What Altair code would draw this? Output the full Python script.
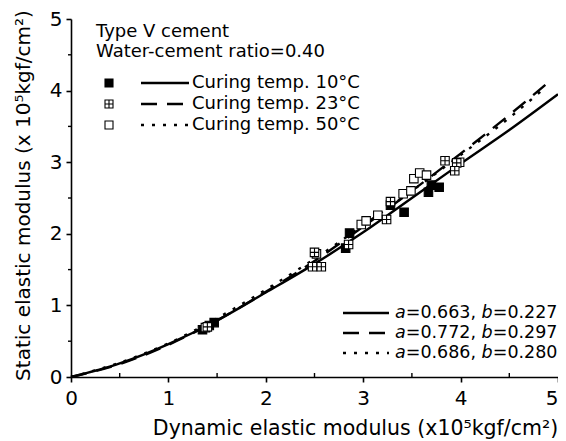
import altair as alt
import pandas as pd

# ---------------- data ----------------
# fitted curves
curve10_x = [0, 0.5, 1, 1.5, 2, 2.5, 3, 3.5, 4, 4.5, 5]
curve10_y = [0, 0.19, 0.46, 0.79, 1.18, 1.58, 2.02, 2.50, 2.98, 3.45, 3.95]
curve23_x = [0, 0.5, 1, 1.5, 2, 2.5, 3, 3.5, 4, 4.5, 4.87]
curve23_y = [0, 0.18, 0.45, 0.79, 1.19, 1.62, 2.10, 2.60, 3.12, 3.66, 4.08]
curve50_x = [0, 0.5, 1, 1.5, 2, 2.5, 3, 3.5, 4, 4.5, 4.85]
curve50_y = [0, 0.20, 0.47, 0.82, 1.22, 1.65, 2.12, 2.60, 3.10, 3.62, 4.02]

# measured points
pts10_x = [1.35, 1.42, 1.47, 2.82, 2.86, 3.28, 3.42, 3.67, 3.70, 3.78]
pts10_y = [0.66, 0.72, 0.76, 1.80, 2.01, 2.40, 2.30, 2.58, 2.68, 2.65]
pts23_x = [1.40, 2.50, 2.48, 2.57, 2.85, 3.24, 3.28, 3.84, 3.96, 3.94]
pts23_y = [0.70, 1.74, 1.54, 1.54, 1.85, 2.20, 2.45, 3.02, 2.99, 2.88]
pts50_x = [1.38, 2.52, 2.98, 3.03, 3.15, 3.41, 3.49, 3.52, 3.58, 3.65, 3.99]
pts50_y = [0.69, 1.72, 2.13, 2.18, 2.26, 2.56, 2.60, 2.77, 2.85, 2.82, 3.00]

major_ticks = [0, 1, 2, 3, 4, 5]
minor_ticks = [0.5, 1.5, 2.5, 3.5, 4.5]

legend_header = ["Type V cement", "Water-cement ratio=0.40"]
legend_temps = ["Curing temp. 10°C", "Curing temp. 23°C", "Curing temp. 50°C"]
fit_a = ["0.663", "0.772", "0.686"]
fit_b = ["0.227", "0.297", "0.280"]

x_title = "Dynamic elastic modulus (x10⁵kgf/cm²)"
y_title = "Static elastic modulus (x 10⁵kgf/cm²)"

# ---------------- styling ----------------
FONT = "DejaVu Sans"
W, H = 487, 358
TOP = 11
DASH = [16, 10]
DOT = [3, 8]
LW = 2.4
CROSS = "M-1,-1H1V1H-1Z M0,-1V1 M-1,0H1"

xs = alt.Scale(domain=[0, 5], nice=False, zero=False)
ys = alt.Scale(domain=[0, 5], nice=False, zero=False)

axis_common = dict(
    domainColor="black", domainWidth=1.6, tickColor="black", tickWidth=1.6,
    labelFont=FONT, labelFontSize=20, labelColor="black", labelFlush=False,
    grid=False, titleFont=FONT, titleColor="black",
    titleFontWeight="normal", tickSize=5, format="d", values=major_ticks,
)
X_AX = alt.Axis(
    labelPadding=6, title=x_title, titleFontSize=20.5, titleX=284, titleY=57,
    titleBaseline="alphabetic",
    labelAlign=alt.condition("datum.value == 5", alt.value("right"), alt.value("center")),
    **axis_common)
Y_AX = alt.Axis(labelPadding=4, title=y_title, titleFontSize=20, titleX=-42,
                titleY=176, titleAngle=-90, titleBaseline="alphabetic",
                **axis_common)

XE = alt.X("x:Q", scale=xs, axis=X_AX)
YE = alt.Y("y:Q", scale=ys, axis=Y_AX)


def df(xv, yv):
    return pd.DataFrame({"x": xv, "y": yv})


def curve(xv, yv, dash=None):
    kw = dict(color="black", strokeWidth=LW, interpolate="monotone")
    if dash:
        kw["strokeDash"] = dash
    return alt.Chart(df(xv, yv)).mark_line(**kw).encode(x=XE, y=YE)


def points(xv, yv, shape, fill):
    return alt.Chart(df(xv, yv)).mark_point(
        shape=shape, size=72, filled=True, fill=fill, stroke="black",
        strokeWidth=1.1, opacity=1
    ).encode(x=XE, y=YE)


# minor ticks: x inward (up), y outward (left, short)
minor_x = alt.Chart(df(minor_ticks, minor_ticks)).mark_rule(
    color="black", strokeWidth=1.4).encode(
    x=XE, y=alt.value(H), y2=alt.value(H - 4))
minor_y = alt.Chart(df(minor_ticks, minor_ticks)).mark_rule(
    color="black", strokeWidth=1.4).encode(
    y=YE, x=alt.value(0), x2=alt.value(-3))

layers = [
    curve(curve10_x, curve10_y),
    curve(curve23_x, curve23_y, DASH),
    curve(curve50_x, curve50_y, DOT),
    points(pts10_x, pts10_y, "square", "black"),
    points(pts50_x, pts50_y, "square", "white"),
    points(pts23_x, pts23_y, CROSS, "white"),
    minor_x,
    minor_y,
]

one = pd.DataFrame({"k": [0]})


def txt(s, px, py, italic=False, size=18, align="left"):
    return alt.Chart(pd.DataFrame({"t": [s]})).mark_text(
        font=FONT, fontSize=size, align=align, baseline="middle",
        color="black", fontStyle="italic" if italic else "normal",
    ).encode(x=alt.value(px), y=alt.value(py), text="t:N")


def leg_line(x1, x2, py, dash=None):
    kw = dict(color="black", strokeWidth=LW)
    if dash:
        kw["strokeDash"] = dash
    return alt.Chart(one).mark_rule(**kw).encode(
        x=alt.value(x1), x2=alt.value(x2), y=alt.value(py))


def leg_point(px, py, shape, fill):
    return alt.Chart(one).mark_point(
        shape=shape, size=64, filled=True, fill=fill, stroke="black",
        strokeWidth=1.1, opacity=1).encode(x=alt.value(px), y=alt.value(py))


# top-left legend (pixel rows measured from the plot top)
layers.append(txt(legend_header[0], 25, 13))
layers.append(txt(legend_header[1], 25, 33))
rows_y = [64, 85, 106]
shapes = [("square", "black"), (CROSS, "white"), ("square", "white")]
dashes = [None, DASH, DOT]
for i in range(3):
    layers.append(leg_point(38, rows_y[i], *shapes[i]))
    layers.append(leg_line(70, 118, rows_y[i], dashes[i]))
    layers.append(txt(legend_temps[i], 121, rows_y[i]))

# bottom-right legend (fit parameters)
fs = 17.5
fit_rows = [294, 314, 334]
x0 = 324
w_a = 0.613 * fs
w_mid = 4.336 * fs
w_b = 0.635 * fs
for i in range(3):
    layers.append(leg_line(272, 318, fit_rows[i], dashes[i]))
    layers.append(txt("a", x0, fit_rows[i], italic=True, size=fs))
    layers.append(txt("=" + fit_a[i] + ", ", x0 + w_a, fit_rows[i], size=fs))
    layers.append(txt("b", x0 + w_a + w_mid, fit_rows[i], italic=True, size=fs))
    layers.append(txt("=" + fit_b[i], x0 + w_a + w_mid + w_b, fit_rows[i], size=fs))

chart = alt.layer(*layers).properties(
    width=W, height=H,
    autosize=alt.AutoSizeParams(type="none"),
    padding={"left": 63, "top": TOP, "right": 0, "bottom": 64},
).configure(background="white").configure_view(stroke=None)

chart.save("out.html", embed_options={"renderer": "svg", "actions": False})
